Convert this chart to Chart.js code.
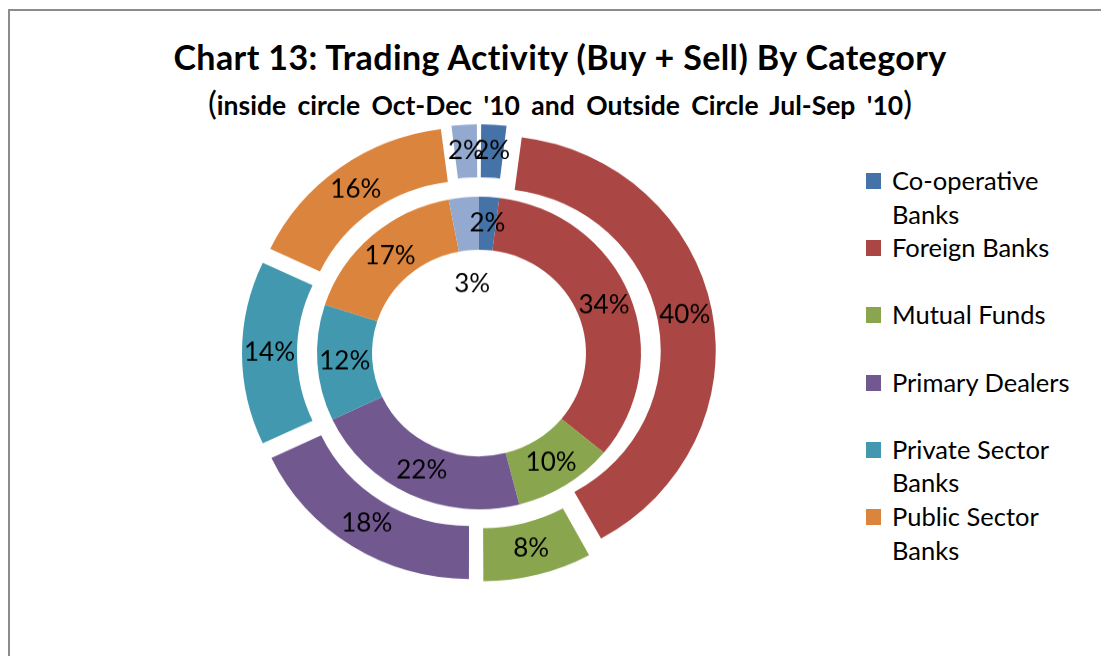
<!DOCTYPE html>
<html>
<head>
<meta charset="utf-8">
<script src="https://cdn.jsdelivr.net/npm/chart.js@4/dist/chart.umd.min.js"></script>
<style>
  html, body { margin: 0; padding: 0; background: #fff; overflow: hidden; }
  body { width: 1101px; height: 656px; position: relative; font-family: Lato, "Open Sans", sans-serif; }
  #frame { position: absolute; left: 8px; top: 9px; width: 1200px; height: 800px;
           border-left: 2px solid #8c8c8c; border-top: 2px solid #8c8c8c; }
  #title { position: absolute; left: 8px; width: 1104px; top: 35px; text-align: center;
           font-weight: bold; font-size: 34px; letter-spacing: 0.4px; line-height: 44px; color: #000; }
  #subtitle { position: absolute; left: 8px; width: 1104px; top: 83px; text-align: center;
           font-weight: bold; font-size: 26.5px; word-spacing: 5px; line-height: 38px; color: #000; }
  #subtitle .p { font-size: 33px; font-weight: normal; }
  #wrap { position: absolute; left: 229px; top: 103px; width: 500px; height: 500px;
          transform: scaleY(0.965); transform-origin: 50% 50%; }
  #legend { position: absolute; left: 866px; top: 164px; font-size: 25.5px; color: #000; }
  .entry { position: absolute; left: 0; width: 235px; }
  .sw { position: absolute; left: 0; top: 9px; width: 15px; height: 16px; }
  .lt { position: absolute; left: 26px; top: 0; width: 200px; line-height: 33.5px; white-space: normal; }
</style>
</head>
<body>
<div id="frame"></div>
<div id="title"></div>
<div id="subtitle"></div>
<div id="wrap"><canvas id="c"></canvas></div>
<div id="legend"></div>
<script>
// ---- data ----
const titleText = "Chart 13: Trading Activity (Buy + Sell) By Category";
const subtitleText = "inside circle Oct-Dec '10 and Outside Circle Jul-Sep '10";
const categories = ["Co-operative Banks", "Foreign Banks", "Mutual Funds", "Primary Dealers",
                    "Private Sector Banks", "Public Sector Banks", "Others"];
const outerLabel = "Jul-Sep '10";
const innerLabel = "Oct-Dec '10";
const julSep10 = [2, 40, 8, 18, 14, 16, 2];   // outside circle
const octDec10 = [2, 34, 10, 22, 12, 17, 3];  // inside circle
const legendCount = 6;
const colors = ["#4572A7", "#AA4643", "#89A54E", "#71588F", "#4198AF", "#DB843D", "#93A9CF"];

// ---- title / subtitle ----
document.getElementById('title').textContent = titleText;
const st = document.getElementById('subtitle');
st.innerHTML = '<span class="p">(</span>' + subtitleText.replace(/&/g,'&amp;') + '<span class="p">)</span>';

// ---- legend ----
const lg = document.getElementById('legend');
for (let i = 0; i < legendCount; i++) {
  const e = document.createElement('div');
  e.className = 'entry';
  e.style.top = (i * 67.2) + 'px';
  const sw = document.createElement('div');
  sw.className = 'sw';
  sw.style.background = colors[i];
  const t = document.createElement('div');
  t.className = 'lt';
  t.textContent = categories[i];
  e.appendChild(sw); e.appendChild(t);
  lg.appendChild(e);
}

// ---- explosion of outer ring (Excel style, ~20px radial shift) ----
const EXPLODE = 20;
function explodeOffset(ctx) {
  if (ctx.type !== 'data') return 0;
  const d = ctx.dataset.data;
  const total = d.reduce((a, b) => a + b, 0);
  const circ = d[ctx.dataIndex] / total * Math.PI * 2;
  const fix = 1 - Math.sin(Math.min(Math.PI, circ));
  return 4 * EXPLODE / (1 + fix);
}

// ---- percentage labels plugin ----
const pctLabels = {
  id: 'pctLabels',
  afterDatasetsDraw(chart, args, opts) {
    const ctx = chart.ctx;
    ctx.save();
    ctx.font = opts.font;
    ctx.fillStyle = opts.color;
    ctx.textAlign = 'center';
    ctx.textBaseline = 'middle';
    chart.data.datasets.forEach((ds, di) => {
      const meta = chart.getDatasetMeta(di);
      const total = ds.data.reduce((a, b) => a + b, 0);
      meta.data.forEach((arc, i) => {
        const p = arc.getProps(['x', 'y', 'startAngle', 'endAngle', 'innerRadius', 'outerRadius'], true);
        const off = (arc.options.offset || 0) / 4;
        const fix = 1 - Math.sin(Math.min(Math.PI, p.endAngle - p.startAngle));
        const mid = (p.startAngle + p.endAngle) / 2;
        let r = (p.innerRadius + p.outerRadius) / 2 + off * (1 + fix);
        const ov = (opts.overrides || []).find(o => o.dataset === di && o.index === i);
        if (ov) r = ov.radius;
        const pct = Math.round(ds.data[i] / total * 100) + '%';
        ctx.fillText(pct, p.x + Math.cos(mid) * r, p.y + Math.sin(mid) * r);
      });
    });
    ctx.restore();
  }
};

new Chart(document.getElementById('c'), {
  type: 'doughnut',
  data: {
    labels: categories,
    datasets: [
      { label: outerLabel, data: julSep10, backgroundColor: colors, borderWidth: 0, offset: explodeOffset },
      { label: innerLabel, data: octDec10, backgroundColor: colors, borderWidth: 0, offset: 0 }
    ]
  },
  options: {
    responsive: true,
    maintainAspectRatio: false,
    animation: false,
    radius: 217,
    cutout: '49.3%',
    layout: { padding: 0 },
    plugins: {
      legend: { display: false },
      title: { display: false },
      tooltip: { enabled: false },
      pctLabels: {
        font: '26px Lato, "Open Sans", sans-serif',
        color: '#000',
        overrides: [{ dataset: 1, index: 6, radius: 72 }]
      }
    }
  },
  plugins: [pctLabels]
});
</script>
</body>
</html>
